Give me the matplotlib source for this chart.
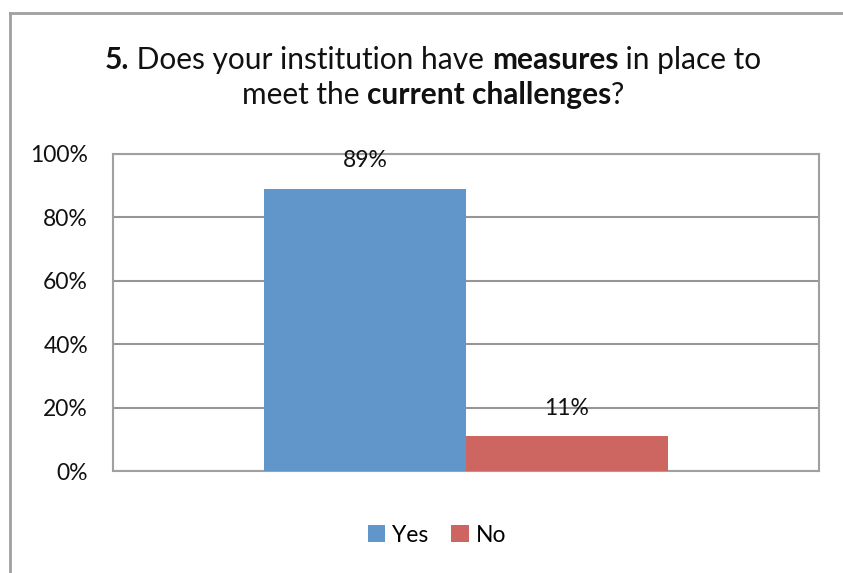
import matplotlib
matplotlib.use("Agg")
import matplotlib.pyplot as plt
from matplotlib.patches import Patch
from matplotlib.lines import Line2D

plt.rcParams['font.family'] = ['Lato', 'DejaVu Sans']

series = ["Yes", "No"]
values = [0.89, 0.11]
labels = ["89%", "11%"]
colors = ["#6196CB", "#CD6660"]
yticks = [0, 0.2, 0.4, 0.6, 0.8, 1.0]
yticklabels = ["0%", "20%", "40%", "60%", "80%", "100%"]
title_lines = [
    [("5.", True), (" Does your institution have ", False), ("measures", True), (" in place to", False)],
    [("meet the ", False), ("current challenges", True), ("?", False)],
]

W, H = 843, 573
fig = plt.figure(figsize=(W / 100, H / 100), dpi=100)
fig.patch.set_facecolor("white")

# axes: x 113..819, y 154..471 (px)
ax = fig.add_axes([113 / W, 1 - 471 / H, (819 - 113) / W, (471 - 154) / H])
bw = 0.286
xs = [-bw / 2, bw / 2]
for x, v, c, s, lab in zip(xs, values, colors, series, labels):
    ax.bar(x, v, width=bw, color=c, label=s, zorder=3)
    ax.annotate(lab, (x, v), xytext=(0, 28), textcoords="offset pixels",
                ha="center", va="center", fontsize=16.5, color="#111111", zorder=4)

ax.set_xlim(-0.5, 0.5)
ax.set_ylim(0, 1.0)
ax.set_yticks(yticks)
ax.set_yticklabels(yticklabels, fontsize=16.5, color="#111111")
ax.set_xticks([])
ax.tick_params(axis="y", length=0, pad=18)
ax.grid(axis="y", color="#969696", linewidth=1.5, zorder=1)
for sp in ax.spines.values():
    sp.set_color("#a0a0a0")
    sp.set_linewidth(1.5)

# outer chart border (top and left visible)
fig.add_artist(Line2D([9.5 / W, 1.0], [1 - 12.5 / H, 1 - 12.5 / H], color="#a0a0a0", linewidth=2))
fig.add_artist(Line2D([9.5 / W, 9.5 / W], [0, 1 - 12.5 / H], color="#a0a0a0", linewidth=2))

# title with mixed bold
fig.canvas.draw()
renderer = fig.canvas.get_renderer()
line_y = [60, 95]
for segs, yp in zip(title_lines, line_y):
    texts = []
    for s, b in segs:
        t = fig.text(0, 1 - yp / H, s, fontsize=21.5, fontweight="bold" if b else "normal",
                     ha="left", va="center", color="#111111")
        texts.append(t)
    widths = [t.get_window_extent(renderer).width for t in texts]
    total = sum(widths)
    x0 = 433 - total / 2
    for t, w in zip(texts, widths):
        t.set_x(x0 / W)
        x0 += w

# legend
handles = [Patch(facecolor=c, label=s) for c, s in zip(colors, series)]
fig.legend(handles=handles, loc="center", bbox_to_anchor=(437 / W, 1 - 535 / H), ncol=2,
           frameon=False, fontsize=16.5, handlelength=0.75, handleheight=0.75, handletextpad=0.3,
           columnspacing=1.0)

fig.savefig("out.png", dpi=100, facecolor="white")
